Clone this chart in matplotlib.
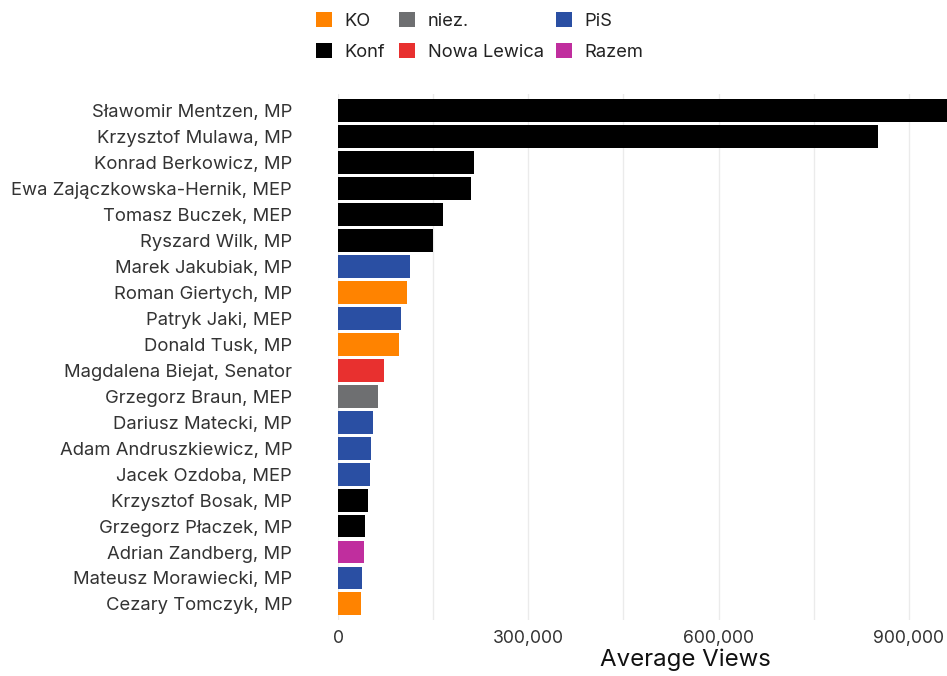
import matplotlib
matplotlib.use("Agg")
import matplotlib.pyplot as plt
from matplotlib.patches import Patch
from matplotlib.ticker import FuncFormatter, MultipleLocator

# Dane: nazwiska, partie i średnie wyświetlenia
nazwiska = [
    "Sławomir Mentzen, MP", "Krzysztof Mulawa, MP", "Konrad Berkowicz, MP",
    "Ewa Zajączkowska-Hernik, MEP", "Tomasz Buczek, MEP", "Ryszard Wilk, MP",
    "Marek Jakubiak, MP", "Roman Giertych, MP", "Patryk Jaki, MEP",
    "Donald Tusk, MP", "Magdalena Biejat, Senator", "Grzegorz Braun, MEP",
    "Dariusz Matecki, MP", "Adam Andruszkiewicz, MP", "Jacek Ozdoba, MEP",
    "Krzysztof Bosak, MP", "Grzegorz Płaczek, MP", "Adrian Zandberg, MP",
    "Mateusz Morawiecki, MP", "Cezary Tomczyk, MP",
]
partie = [
    "Konf", "Konf", "Konf", "Konf", "Konf", "Konf",
    "PiS", "KO", "PiS", "KO", "Nowa Lewica", "niez.",
    "PiS", "PiS", "PiS", "Konf", "Konf", "Razem", "PiS", "KO",
]
wyswietlenia = [
    1040000, 851000, 214000, 210000, 166000, 150000,
    113000, 108000, 99000, 96000, 72000, 63000,
    55000, 52000, 50000, 48000, 43000, 41000, 38000, 36000,
]

kolory = {
    "KO": "#FF8300",
    "Konf": "#000000",
    "niez.": "#6E6F71",
    "Nowa Lewica": "#E8302F",
    "PiS": "#2A4FA3",
    "Razem": "#C02E9E",
}

plt.rcParams["font.family"] = ["Inter", "DejaVu Sans"]

fig = plt.figure(figsize=(9.47, 6.76), dpi=100)
# oś wychodzi poza prawą krawędź, jak w oryginale (obcięty wykres)
ax = fig.add_axes([338 / 947, 56 / 676, 694 / 947, 526 / 676])

pozycje = list(range(len(nazwiska)))
ax.barh(pozycje, wyswietlenia, height=0.88,
        color=[kolory[p] for p in partie], zorder=3)

ax.set_ylim(19.62, -0.65)
ax.set_xlim(0, 1094000)
ax.xaxis.set_major_locator(MultipleLocator(300000))
ax.xaxis.set_minor_locator(MultipleLocator(150000))
ax.xaxis.set_major_formatter(FuncFormatter(lambda v, _: f"{int(v):,}"))
ax.grid(axis="x", which="both", color="#EBEBEB", linewidth=1.0, zorder=0)

ax.set_yticks(pozycje)
ax.set_yticklabels(nazwiska)
ax.tick_params(axis="y", length=0, pad=33, labelsize=13.3, labelcolor="#333333")
ax.tick_params(axis="x", which="both", length=0, pad=7, labelsize=12.7,
               labelcolor="#333333")
for s in ax.spines.values():
    s.set_visible(False)

ax.set_xlabel("Average Views", fontsize=17.3, labelpad=1)
ax.xaxis.label.set_color("#111111")

# Legenda: trzy kolumny rozmieszczone ręcznie
kolumny = [(["KO", "Konf"], 316), (["niez.", "Nowa Lewica"], 399), (["PiS", "Razem"], 556)]
for grupa, x in kolumny:
    uchwyty = [Patch(facecolor=kolory[g], edgecolor="none", label=g) for g in grupa]
    fig.legend(handles=uchwyty, loc="upper left",
               bbox_to_anchor=(x / 947, 1 - 12 / 676), frameon=False,
               fontsize=13.2, handlelength=0.85, handleheight=0.85,
               handletextpad=0.72, labelspacing=0.75, borderpad=0,
               borderaxespad=0, labelcolor="#222222")

fig.savefig("out.png", dpi=100)
